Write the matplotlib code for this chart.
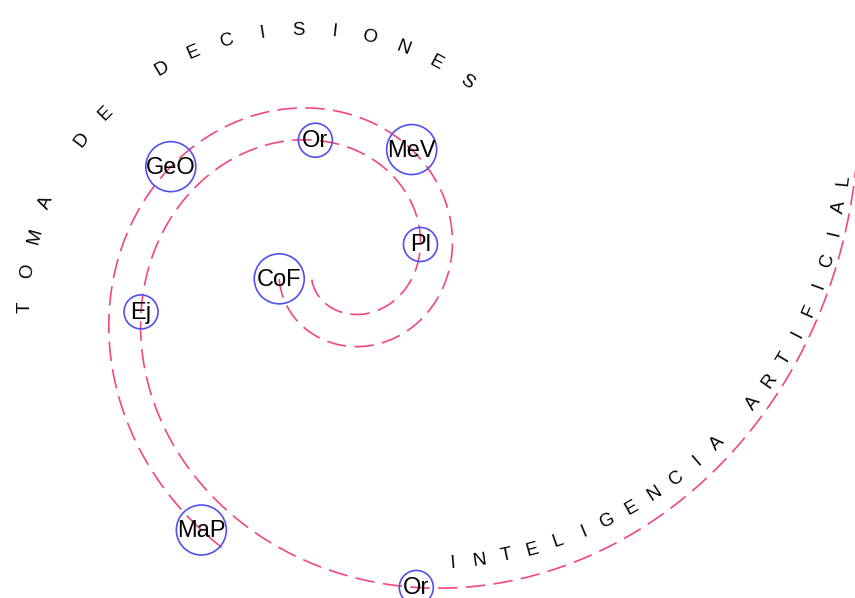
import numpy as np
import matplotlib
matplotlib.use('Agg')
import matplotlib.pyplot as plt
from matplotlib.patches import Circle

plt.rcParams['font.family'] = ['Liberation Sans', 'DejaVu Sans']
plt.rcParams['lines.scale_dashes'] = False

# nodos del brazo interior (el que se abre hacia "INTELIGENCIA ARTIFICIAL")
inner_labels = ['Pl', 'Or', 'Ej', 'Or']
inner_angles = [375, 462, 553, 643]      # grados recorridos sobre la espiral
inner_level = [2, 2, 2, 2]

# nodos del brazo exterior
outer_labels = ['CoF', 'MeV', 'GeO', 'MaP']
outer_angles = [192, 419, 510, 602]
outer_level = [1, 1, 1, 1]

top_text = 'TOMA DE DECISIONES'
bottom_text = 'INTELIGENCIA ARTIFICIAL'

# espiral logaritmica r = a*exp(k*phi), brazo exterior desplazado "gap"
cx, cy = 342, 265.5
a, k = 11.4, 0.30
gap = 33
node_r = {1: 25, 2: 17}


def spiral(phi_deg, offset=0):
    t = np.radians(phi_deg)
    r = a * np.exp(k * t) + offset
    return cx + r * np.cos(t), cy - r * np.sin(t)


fig = plt.figure(figsize=(8.55, 5.98), dpi=100)
ax = fig.add_axes([0, 0, 1, 1])
ax.set_xlim(0, 855)
ax.set_ylim(598, 0)
ax.set_aspect('equal')
ax.axis('off')

line_kw = dict(color='#f2477a', lw=1.2, ls=(0, (14, 6)))
x1, y1 = spiral(np.linspace(205, 740, 800))
ax.plot(x1, y1, **line_kw)
x2, y2 = spiral(np.linspace(192, 607, 600), gap)
ax.plot(x2, y2, **line_kw)

for labels, angles, levels, off in [(inner_labels, inner_angles, inner_level, 0),
                                     (outer_labels, outer_angles, outer_level, gap)]:
    for lab, ang, lev in zip(labels, angles, levels):
        px, py = spiral(ang, off)
        ax.add_patch(Circle((px, py), node_r[lev], fill=False,
                            ec='#5050f0', lw=1.2, zorder=3))
        ax.text(px, py + 1, lab, fontsize=17, ha='center', va='center', zorder=4)

# texto curvo superior (lee en sentido horario)
for i, ch in enumerate(top_text):
    th = np.radians(179.5 - 7.35 * i)
    ax.text(304.5 + 279.5 * np.cos(th), 309.5 - 279.5 * np.sin(th), ch,
            fontsize=13.5, ha='center', va='center',
            rotation=np.degrees(th) - 90, rotation_mode='anchor')

# texto curvo inferior (lee en sentido antihorario)
for i, ch in enumerate(bottom_text):
    th = np.radians(-85.5 + 3.63 * i)
    ax.text(419.4 + 426 * np.cos(th), 138.8 - 426 * np.sin(th), ch,
            fontsize=13.5, ha='center', va='center',
            rotation=np.degrees(th) + 90, rotation_mode='anchor')

fig.savefig('out.png', dpi=100, facecolor='white')
